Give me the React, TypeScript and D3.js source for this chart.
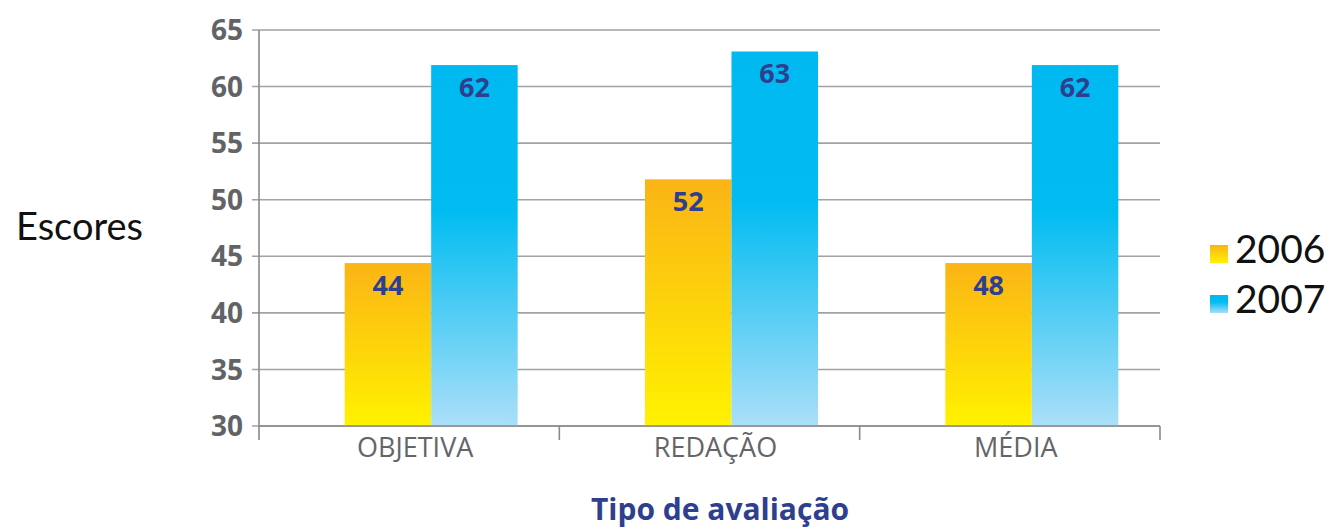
import React from 'react';
import * as d3 from 'd3';

const categories = ['OBJETIVA', 'REDAÇÃO', 'MÉDIA'];
const series = ['2006', '2007'];
const values2006 = [44.4, 51.8, 44.4];
const values2007 = [61.9, 63.1, 61.9];
const labels2006 = ['44', '52', '48'];
const labels2007 = ['62', '63', '62'];
const yTicks = [30, 35, 40, 45, 50, 55, 60, 65];

const W = 1331, H = 530;
const left = 259, right = 1160, top = 30, bottom = 426;

const App = () => {
  const x = d3.scaleBand().domain(categories).range([left, right]);
  const y = d3.scaleLinear().domain([30, 65]).range([bottom, top]);
  const barW = 86.5;
  const shift = 22; // bars sit a bit right of the band centre in the original
  const bars = [
    { key: '2006', values: values2006, labels: labels2006, fill: 'url(#g2006)', off: -barW },
    { key: '2007', values: values2007, labels: labels2007, fill: 'url(#g2007)', off: 0 },
  ];
  const band = x.bandwidth();

  return (
    <svg width={W} height={H} style={{ position: 'absolute', left: 0, top: 0, background: '#fff' }}>
      <defs>
        <linearGradient id="g2006" x1="0" y1="0" x2="0" y2="1">
          <stop offset="0" stopColor="#fbb416" />
          <stop offset="1" stopColor="#fff200" />
        </linearGradient>
        <linearGradient id="g2007" x1="0" y1="0" x2="0" y2="1">
          <stop offset="0" stopColor="#00b9f1" />
          <stop offset="0.4" stopColor="#00bcf1" />
          <stop offset="1" stopColor="#abdff8" />
        </linearGradient>
      </defs>

      {yTicks.map(t => (
        <g key={t}>
          <line x1={left - 7} x2={right} y1={y(t)} y2={y(t)} stroke="#a2a2a4" strokeWidth={1.6} />
          <text x={243} y={y(t)} dy="0.36em" textAnchor="end" fontFamily="'Open Sans', sans-serif"
            fontWeight={700} fontSize={28} fill="#626366">{t}</text>
        </g>
      ))}

      {bars.map(s => s.values.map((v, i) => {
        const cx = x(categories[i])! + band / 2 + shift;
        return (
          <g key={s.key + i}>
            <rect x={cx + s.off} y={y(v)} width={barW} height={bottom - y(v)} fill={s.fill} />
            <text x={cx + s.off + barW / 2} y={y(v) + 32} textAnchor="middle"
              fontFamily="'Open Sans', sans-serif" fontWeight={700} fontSize={27} fill="#2e3f8f">{s.labels[i]}</text>
          </g>
        );
      }))}

      <line x1={left} x2={left} y1={top} y2={bottom} stroke="#8a8a8d" strokeWidth={1.6} />
      <line x1={left} x2={right} y1={bottom} y2={bottom} stroke="#8a8a8d" strokeWidth={1.6} />
      {[...categories.map(c => x(c)!), right].map((tx, i) => (
        <line key={i} x1={tx} x2={tx} y1={bottom} y2={440} stroke="#8a8a8d" strokeWidth={1.6} />
      ))}
      {categories.map(c => (
        <text key={c} x={x(c)! + band / 2 + 6} y={457} textAnchor="middle"
          fontFamily="'Open Sans', sans-serif" fontSize={27} fill="#646569">{c}</text>
      ))}

      <text x={16} y={240} fontFamily="Lato, sans-serif" fontSize={38} fill="#111">Escores</text>
      <text x={720} y={520} textAnchor="middle" fontFamily="'Open Sans', sans-serif" fontWeight={700}
        fontSize={30} fill="#2e3f8f">Tipo de avaliação</text>

      {series.map((s, i) => (
        <g key={s} transform={`translate(1210, ${245 + i * 50})`}>
          <rect width={18} height={18} fill={`url(#g${s})`} />
          <text x={25} y={18} fontFamily="Lato, sans-serif" fontSize={39} fill="#111">{s}</text>
        </g>
      ))}
    </svg>
  );
};

export default App;
